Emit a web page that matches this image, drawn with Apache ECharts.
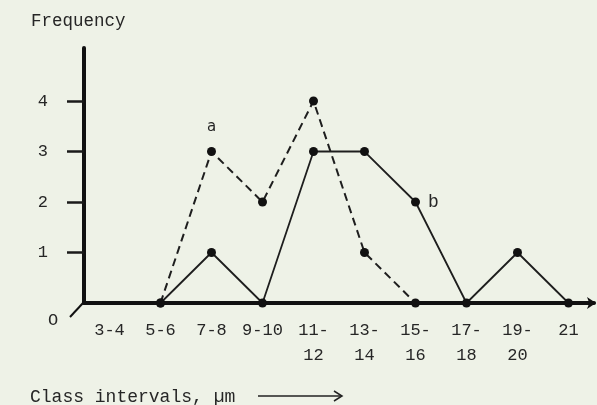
<!DOCTYPE html>
<html>
<head>
<meta charset="utf-8">
<script src="https://cdn.jsdelivr.net/npm/echarts@6/dist/echarts.min.js"></script>
<style>
  html, body { margin: 0; padding: 0; background: #eef2e7; }
  #chart { width: 597px; height: 405px; }
</style>
</head>
<body>
<div id="chart"></div>
<script>
// class intervals (µm)
const classes = ['3-4', '5-6', '7-8', '9-10', '11-\n12', '13-\n14', '15-\n16', '17-\n18', '19-\n20', '21']
// curve a (dashed) and curve b (solid), frequencies
const freqA = ['-', 0, 3, 2, 4, 1, 0, '-', '-', '-']
const freqB = ['-', 0, 1, 0, 3, 3, 2, 0, 1, 0]
const yTicks = [1, 2, 3, 4]

const font = '"Liberation Mono", "DejaVu Sans Mono", monospace'
const ink = '#262626'

const chart = echarts.init(document.getElementById('chart'))

const dotted = (vals, name, labelIdx, labelPos) =>
  vals.map((v, i) => {
    if (i !== labelIdx) return v
    return {
      value: v,
      label: {
        show: true,
        formatter: name,
        position: labelPos,
        distance: labelPos === 'top' ? 12 : 8,
        color: ink,
        fontFamily: labelPos === 'top' ? 'DejaVu Sans, sans-serif' : font,
        fontSize: labelPos === 'top' ? 15 : 18,
      },
    }
  })

chart.setOption({
  backgroundColor: '#eef2e7',
  animation: false,
  title: [
    {
      text: 'Frequency',
      left: 26,
      top: 7,
      textStyle: { fontFamily: font, fontSize: 17.5, fontWeight: 'normal', color: ink },
    },
    {
      text: 'Class intervals, µm',
      left: 25,
      top: 383,
      textStyle: { fontFamily: font, fontSize: 18, fontWeight: 'normal', color: ink },
    },
  ],
  grid: { left: 84, top: 48, width: 510, bottom: 102 },
  xAxis: {
    type: 'category',
    data: classes,
    boundaryGap: true,
    axisLine: {
      lineStyle: { color: '#111', width: 4 },
      symbol: ['none', 'arrow'],
      symbolSize: [9, 9],
      symbolOffset: [0, 2],
    },
    axisTick: { length: 18, lineStyle: { color: '#222', width: 1.5 } },
    axisLabel: {
      margin: 15,
      fontFamily: font,
      fontSize: 17,
      lineHeight: 25,
      color: ink,
      interval: 0,
    },
    splitLine: { show: false },
  },
  yAxis: {
    type: 'value',
    min: 0,
    max: 5.05,
    axisLine: { show: true, lineStyle: { color: '#111', width: 4, cap: 'round' } },
    axisTick: { show: true, length: 17, customValues: yTicks, lineStyle: { color: '#1a1a1a', width: 2.5 } },
    axisLabel: {
      customValues: yTicks,
      margin: 36,
      fontFamily: font,
      fontSize: 17,
      color: ink,
    },
    splitLine: { show: false },
  },
  graphic: [
    {
      type: 'line',
      shape: { x1: 83, y1: 303, x2: 70, y2: 317 },
      style: { stroke: '#111', lineWidth: 2 },
    },
    {
      type: 'text',
      left: 48,
      top: 312,
      style: { text: 'O', font: '17px ' + font, fill: ink },
    },
    {
      type: 'line',
      shape: { x1: 258, y1: 396, x2: 341, y2: 396 },
      style: { stroke: '#222', lineWidth: 1.5 },
    },
    {
      type: 'polyline',
      shape: { points: [[334, 391], [342, 396], [334, 401]] },
      style: { stroke: '#222', lineWidth: 1.5, fill: null },
    },
  ],
  series: [
    {
      name: 'a',
      type: 'line',
      data: dotted(freqA, 'a', 2, 'top'),
      symbol: 'circle',
      symbolSize: 9,
      itemStyle: { color: '#111' },
      lineStyle: { color: '#1e1e1e', width: 2, type: [8, 5] },
      emphasis: { disabled: true },
      z: 3,
    },
    {
      name: 'b',
      type: 'line',
      data: dotted(freqB, 'b', 6, 'right'),
      symbol: 'circle',
      symbolSize: 9,
      itemStyle: { color: '#111' },
      lineStyle: { color: '#1e1e1e', width: 1.8 },
      emphasis: { disabled: true },
      z: 3,
    },
  ],
})
</script>
</body>
</html>
